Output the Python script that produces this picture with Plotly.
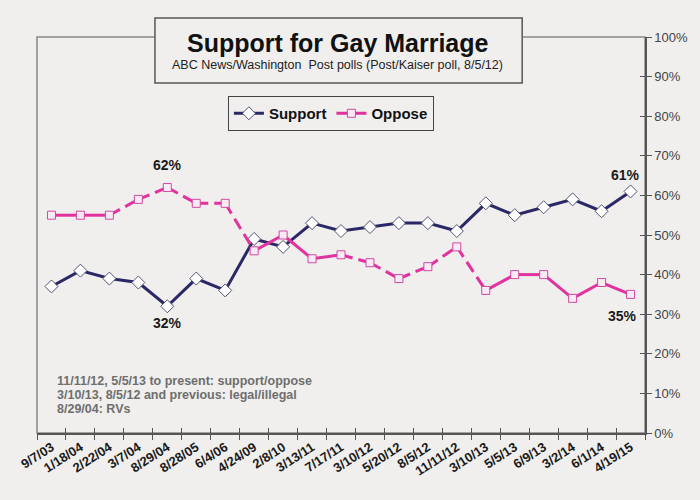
import plotly.graph_objects as go

# ABC News/Washington Post polls on gay marriage
dates = ["9/7/03", "1/18/04", "2/22/04", "3/7/04", "8/29/04", "8/28/05", "6/4/06",
         "4/24/09", "2/8/10", "3/13/11", "7/17/11", "3/10/12", "5/20/12", "8/5/12",
         "11/11/12", "3/10/13", "5/5/13", "6/9/13", "3/2/14", "6/1/14", "4/19/15"]
support = [37, 41, 39, 38, 32, 39, 36, 49, 47, 53, 51, 52, 53, 53, 51, 58, 55, 57, 59, 56, 61]
oppose = [55, 55, 55, 59, 62, 58, 58, 46, 50, 44, 45, 43, 39, 42, 47, 36, 40, 40, 34, 38, 35]

notes = ["11/11/12, 5/5/13 to present: support/oppose",
         "3/10/13, 8/5/12 and previous: legal/illegal",
         "8/29/04: RVs"]

# oppose segments (index of start point) that the original draws broken
dashed_segments = {2, 3, 4, 5, 6, 10, 11, 12, 13, 14}

FONT = "Liberation Sans, Arial, sans-serif"
BG = "#f0efed"
NAVY = "#2b2868"
PINK = "#e2329f"


def segments(xs, ys, idx):
    # build one x/y list of the chosen segments, broken by None
    sx, sy = [], []
    for i in idx:
        sx += [xs[i], xs[i + 1], None]
        sy += [ys[i], ys[i + 1], None]
    return sx, sy


n = len(dates)
solid_idx = [i for i in range(n - 1) if i not in dashed_segments]
dash_idx = [i for i in range(n - 1) if i in dashed_segments]

fig = go.Figure()

fig.add_trace(go.Scatter(
    x=dates, y=support, name="Support", mode="lines+markers",
    line=dict(color=NAVY, width=3),
    marker=dict(symbol="diamond", size=10, color="white",
                line=dict(color="#55536f", width=1))))

sx, sy = segments(dates, oppose, solid_idx)
fig.add_trace(go.Scatter(x=sx, y=sy, mode="lines", showlegend=False,
                         line=dict(color=PINK, width=3), hoverinfo="skip"))
dx, dy = segments(dates, oppose, dash_idx)
fig.add_trace(go.Scatter(x=dx, y=dy, mode="lines", showlegend=False,
                         line=dict(color=PINK, width=3, dash="12px,6px"), hoverinfo="skip"))
fig.add_trace(go.Scatter(
    x=dates, y=oppose, name="Oppose", mode="markers", showlegend=False,
    marker=dict(symbol="square", size=8, color="#f9eaf3",
                line=dict(color="#cf4aa3", width=1))))
# legend entry for oppose (line + marker)
fig.add_trace(go.Scatter(
    x=[None], y=[None], name="Oppose", mode="lines+markers",
    line=dict(color=PINK, width=3),
    marker=dict(symbol="square", size=8, color="#f9eaf3",
                line=dict(color="#cf4aa3", width=1))))

# invisible trace so the overlay axes (for crossing tick marks) get drawn
fig.add_trace(go.Scatter(x=dates, y=[None] * n, xaxis="x2", yaxis="y2",
                         showlegend=False, hoverinfo="skip", mode="lines"))

# value call-outs
callouts = [
    (dates[4], oppose[4], 0, 22),
    (dates[4], support[4], 0, -17),
    (dates[-1], support[-1], -5, 16),
    (dates[-1], oppose[-1], -8, -22),
]
for x, y, xs_, ys_ in callouts:
    fig.add_annotation(x=x, y=y, text=f"{y}%", showarrow=False,
                       xshift=xs_, yshift=ys_,
                       font=dict(family=FONT, size=14, color="#1a1a1a", weight="bold"))

# title box
fig.add_shape(type="rect", xref="paper", yref="paper",
              x0=0.194, x1=0.798, y0=0.884, y1=1.048,
              line=dict(color="#5a5654", width=1.5), fillcolor=BG, layer="above")
fig.add_annotation(xref="paper", yref="paper", x=0.495, y=0.985, yanchor="middle",
                   text="Support for Gay Marriage", showarrow=False,
                   font=dict(family=FONT, size=25, color="#111", weight="bold"))
fig.add_annotation(xref="paper", yref="paper", x=0.495, y=0.929, yanchor="middle",
                   text="ABC News/Washington  Post polls (Post/Kaiser poll, 8/5/12)",
                   showarrow=False, font=dict(family=FONT, size=12.5, color="#222"))

# footnote, one line at a time to keep the tight line spacing
for k, line in enumerate(notes):
    fig.add_annotation(xref="paper", yref="paper", x=0.03, y=0.1313 - k * 0.0353,
                       xanchor="left", yanchor="middle", showarrow=False, text=line,
                       font=dict(family=FONT, size=12.5, color="#6e6e6e", weight="bold"))

# outer plot frame
fig.add_shape(type="rect", xref="paper", yref="paper", x0=0, x1=1, y0=0, y1=1,
              line=dict(color="#8c8886", width=1.5), layer="below")

xcommon = dict(type="category", categoryorder="array", categoryarray=dates,
               range=[-0.5, n - 0.5], tickson="boundaries", showgrid=False,
               zeroline=False, ticklen=5, tickcolor="#555", tickwidth=1)
ycommon = dict(range=[0, 100], dtick=10, side="right", showgrid=False,
               zeroline=False, ticklen=5, tickcolor="#555", tickwidth=1)

fig.update_layout(
    width=700, height=500,
    margin=dict(l=37, r=55, t=37, b=67),
    paper_bgcolor=BG, plot_bgcolor=BG,
    font=dict(family=FONT),
    xaxis=dict(**xcommon, ticks="outside", showline=True, linecolor="#555",
               linewidth=1.5, tickangle=-33,
               tickfont=dict(family=FONT, size=13, color="#1a1a1a", weight="bold")),
    xaxis2=dict(**xcommon, overlaying="x", ticks="inside", showticklabels=False),
    yaxis=dict(**ycommon, ticks="outside", showline=True, linecolor="#555",
               linewidth=1.5, ticksuffix="%",
               tickfont=dict(family=FONT, size=13, color="#444")),
    yaxis2=dict(**ycommon, overlaying="y", ticks="inside", showticklabels=False),
    legend=dict(orientation="h", x=0.314, y=0.851, xanchor="left", yanchor="top",
                bordercolor="#444", borderwidth=1, bgcolor=BG, itemwidth=30,
                font=dict(family=FONT, size=15, color="#111", weight="bold")),
    showlegend=True,
)

# drop the page's default body margin so the figure sits at the window corner
fig.write_html("out.html", config={"displayModeBar": False},
               post_script="document.body.style.margin='0';")
